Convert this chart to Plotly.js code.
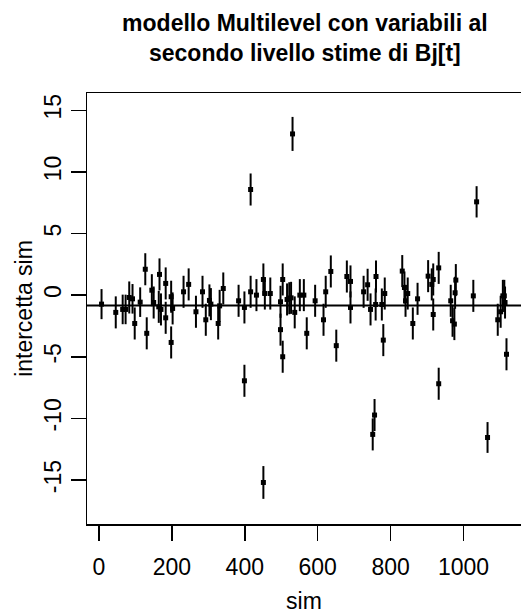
<!DOCTYPE html>
<html>
<head>
<meta charset="utf-8">
<script src="https://cdn.plot.ly/plotly-3.0.1.min.js"></script>
<style>html,body{margin:0;padding:0;background:#fff;}#chart{width:521px;height:614px;}</style>
</head>
<body>
<div id="chart"></div>
<script>
// simulation index (x), estimated intercept (y), half-width of interval (err)
var sim = [7, 46, 65, 73, 83, 92, 98, 113, 127, 131, 145, 150, 164, 166, 170, 183, 183, 198, 198, 202,
  232, 246, 266, 284, 293, 303, 307, 327, 331, 341, 383, 399, 399, 416, 416, 432, 451, 451, 455, 470,
  498, 498, 504, 504, 516, 522, 527, 531, 537, 551, 562, 570, 593, 616, 622, 636, 651, 680, 690, 690,
  726, 737, 745, 751, 756, 759, 760, 776, 780, 784, 832, 838, 841, 847, 861, 874, 903, 913, 917, 917,
  932, 932, 965, 970, 975, 977, 979, 1027, 1036, 1066, 1094, 1102, 1108, 1112, 1114, 1118];
var intercetta = [-0.73, -1.4, -1.16, -1.16, -0.19, -0.3, -2.3, -0.57, 2.1, -3.1, 0.4, -0.6, -0.95, 1.68, -1.16, 0.95, -1.84, -0.13, -3.84, -1.08,
  0.27, 0.87, -1.35, 0.27, -2.0, -0.43, -0.73, -2.3, -0.87, 0.54, -0.46, -1.0, -6.95, 8.57, 0.27, 0.0, 1.27, -15.2, 0.13, 0.13,
  -0.54, -2.8, 1.27, -5.0, -0.35, -0.25, -0.22, 13.08, -1.4, 0.0, 0.0, -3.1, -0.46, -2.0, 0.27, 1.92, -4.1, 1.51, 1.11, -1.0,
  0.27, 0.84, -1.16, -11.3, -9.73, -0.76, 1.51, -0.76, -3.65, 0.13, 1.95, 0.62, -0.46, 0.13, -2.3, -0.3, 1.54, 0.87, 1.27, -1.57,
  2.21, -7.19, -0.46, -2.08, -2.35, 0.19, 1.22, -0.06, 7.57, -11.55, -2.0, -1.35, -0.06, -0.06, -0.6, -4.8];
var errore = [1.22, 1.3, 1.2, 1.2, 1.3, 1.2, 1.3, 1.2, 1.3, 1.3, 1.3, 1.3, 1.3, 1.3, 1.3, 1.3, 1.3, 1.3, 1.3, 1.3,
  1.3, 1.3, 1.3, 1.3, 1.3, 1.3, 1.3, 1.3, 1.3, 1.3, 1.3, 1.3, 1.3, 1.3, 1.3, 1.3, 1.3, 1.33, 1.3, 1.3,
  1.3, 1.3, 1.3, 1.3, 1.3, 1.3, 1.3, 1.38, 1.3, 1.3, 1.3, 1.3, 1.3, 1.3, 1.3, 1.3, 1.3, 1.3, 1.3, 1.3,
  1.3, 1.3, 1.3, 1.3, 1.3, 1.3, 1.3, 1.3, 1.3, 1.3, 1.3, 1.3, 1.3, 1.3, 1.3, 1.3, 1.3, 1.3, 1.3, 1.3,
  1.3, 1.3, 1.3, 1.3, 1.3, 1.3, 1.3, 1.3, 1.27, 1.25, 1.3, 1.3, 1.3, 1.3, 1.3, 1.3];
var mediaIntercetta = -0.85;
var xTicks = [0, 200, 400, 600, 800, 1000];
var yTicks = [-15, -10, -5, 0, 5, 10, 15];

var font = 'Liberation Sans, Arial, sans-serif';

var trace = {
  x: sim, y: intercetta, type: 'scatter', mode: 'markers',
  marker: {symbol: 'square', size: 5, color: '#000'},
  error_y: {type: 'data', array: errore, visible: true, width: 0, thickness: 2, color: '#000'},
  hoverinfo: 'x+y', showlegend: false
};

var layout = {
  width: 521, height: 614,
  paper_bgcolor: '#fff', plot_bgcolor: '#fff',
  margin: {l: 87, r: 0, t: 93, b: 90},
  font: {family: font, color: '#000', size: 23},
  title: {
    text: '<b>modello Multilevel con variabili al<br>secondo livello stime di Bj[t]</b>',
    font: {family: font, size: 23, color: '#000'},
    x: 0.502, xanchor: 'center', xref: 'paper',
    y: 0.949, yanchor: 'top', yref: 'container'
  },
  xaxis: {
    range: [-32.9, 1157.8], tickvals: xTicks, ticktext: xTicks.map(String),
    ticks: 'outside', ticklen: 15, tickwidth: 1.5, tickcolor: '#000', ticklabelstandoff: 7,
    showline: true, linewidth: 1.5, linecolor: '#000', mirror: true,
    showgrid: false, zeroline: false,
    tickfont: {family: font, size: 23, color: '#000'},
    title: {text: 'sim', font: {family: font, size: 23, color: '#000'}, standoff: 14}
  },
  yaxis: {
    range: [-18.57, 16.4], tickvals: yTicks, ticktext: yTicks.map(String),
    ticks: 'outside', ticklen: 15, tickwidth: 1.5, tickcolor: '#000', tickangle: -90,
    showline: true, linewidth: 1.5, linecolor: '#000', mirror: false,
    showgrid: false, zeroline: false,
    tickfont: {family: font, size: 23, color: '#000'},
    title: {text: 'intercetta sim', font: {family: font, size: 23, color: '#000'}, standoff: 1}
  },
  shapes: [{
    type: 'line', xref: 'paper', yref: 'y', x0: 0, x1: 1,
    y0: mediaIntercetta, y1: mediaIntercetta,
    line: {color: '#000', width: 2}, layer: 'above'
  }]
};

Plotly.newPlot('chart', [trace], layout, {staticPlot: true, displayModeBar: false});
</script>
</body>
</html>
